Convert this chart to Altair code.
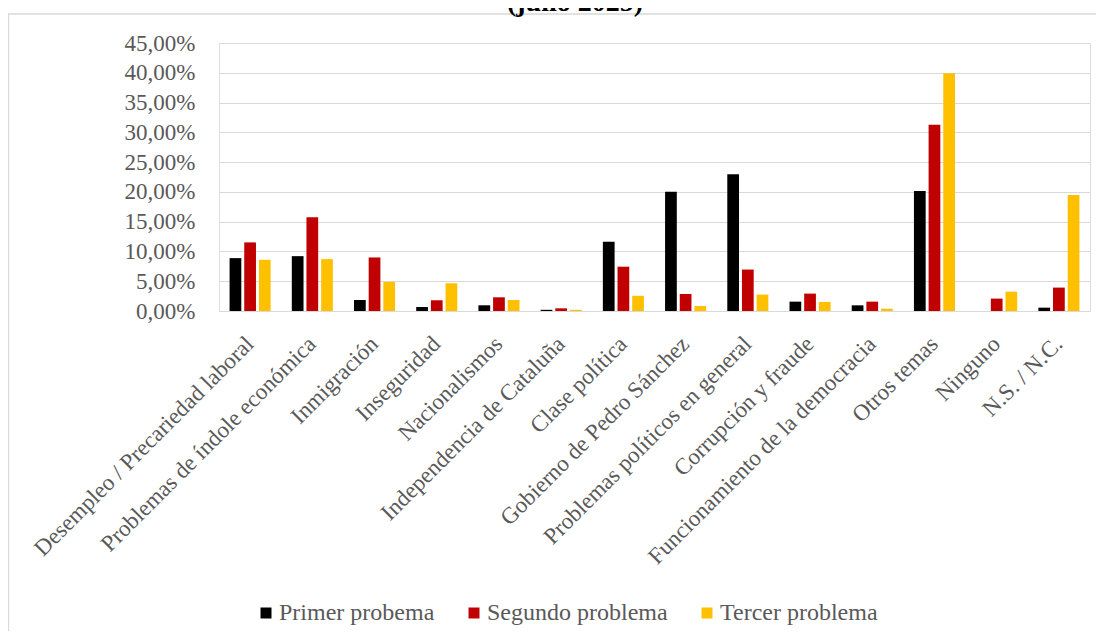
import altair as alt
import pandas as pd

categories = [
    "Desempleo / Precariedad laboral",
    "Problemas de índole económica",
    "Inmigración",
    "Inseguridad",
    "Nacionalismos",
    "Independencia de Cataluña",
    "Clase política",
    "Gobierno de Pedro Sánchez",
    "Problemas políticos en general",
    "Corrupción y fraude",
    "Funcionamiento de la democracia",
    "Otros temas",
    "Ninguno",
    "N.S. / N.C.",
]
series = ["Primer probema", "Segundo problema", "Tercer problema"]
primer = [0.0888, 0.0921, 0.0185, 0.0067, 0.0096, 0.0020, 0.1162, 0.2003, 0.2295, 0.0157, 0.0095, 0.2015, 0.0, 0.0056]
segundo = [0.1152, 0.1573, 0.0899, 0.0180, 0.0230, 0.0045, 0.0744, 0.0286, 0.0696, 0.0292, 0.0157, 0.3126, 0.0208, 0.0393]
tercero = [0.0860, 0.0871, 0.0489, 0.0466, 0.0185, 0.0020, 0.0255, 0.0084, 0.0275, 0.0152, 0.0039, 0.3990, 0.0325, 0.1947]
colors = ["#000000", "#c00000", "#ffc000"]
title_text = "(julio 2025)"

rows = []
for s, vals in zip(series, [primer, segundo, tercero]):
    for c, v in zip(categories, vals):
        rows.append({"cat": c, "serie": s, "val": v})
df = pd.DataFrame(rows)

FONT = "Liberation Serif"
GREY = "#595959"
FS = 23

bars = alt.Chart(df).mark_bar().encode(
    x=alt.X(
        "cat:N",
        sort=categories,
        scale=alt.Scale(paddingInner=0.34, paddingOuter=0.17),
        axis=alt.Axis(
            title=None,
            labelAngle=-45,
            labelAlign="right",
            labelBaseline="middle",
            labelPadding=29,
            labelFont=FONT,
            labelFontSize=FS,
            labelColor=GREY,
            labelLimit=500,
            ticks=False,
            domainColor="#d9d9d9",
            domainWidth=1,
            grid=False,
        ),
    ),
    xOffset=alt.XOffset("serie:N", sort=series, scale=alt.Scale(paddingInner=0.2)),
    y=alt.Y(
        "val:Q",
        scale=alt.Scale(domain=[0, 0.45], nice=False),
        axis=alt.Axis(
            title=None,
            values=[i * 0.05 for i in range(10)],
            labelExpr="replace(format(datum.value, '.2%'), '.', ',')",
            labelFont=FONT,
            labelFontSize=FS,
            labelColor=GREY,
            labelPadding=24,
            ticks=False,
            domain=False,
            gridColor="#d9d9d9",
            gridWidth=1,
        ),
    ),
    color=alt.Color(
        "serie:N",
        sort=series,
        scale=alt.Scale(domain=series, range=colors),
        legend=alt.Legend(
            title=None,
            orient="none",
            direction="horizontal",
            legendX=35,
            legendY=558,
            symbolType="square",
            symbolSize=121,
            symbolStrokeWidth=0,
            labelFont=FONT,
            labelFontSize=24,
            labelColor=GREY,
            labelOffset=1,
            labelLimit=400,
            columnPadding=27,
        ),
    ),
)

one = pd.DataFrame({"a": [0]})
border = alt.Chart(one).mark_rect(fill="transparent", stroke="#d9d9d9", strokeWidth=1.3).encode(
    x=alt.value(-210.5), x2=alt.value(1200), y=alt.value(-29), y2=alt.value(700)
)
title = alt.Chart(one).mark_text(
    text=title_text, font=FONT, fontSize=28, fontWeight="bold", align="center", baseline="alphabetic", color="#000000"
).encode(x=alt.value(356), y=alt.value(-32))

chart = alt.layer(border, bars, title).properties(
    width=871,
    height=268,
    padding={"left": 211, "top": 35, "right": 6, "bottom": 320},
    autosize=alt.AutoSizeParams(type="none"),
).configure_view(stroke=None).configure(background="white").configure_legend(
    labelFont=FONT, labelFontSize=24, labelColor=GREY, labelLimit=400
)

chart.save("out.html", embed_options={"renderer": "svg", "actions": False})
